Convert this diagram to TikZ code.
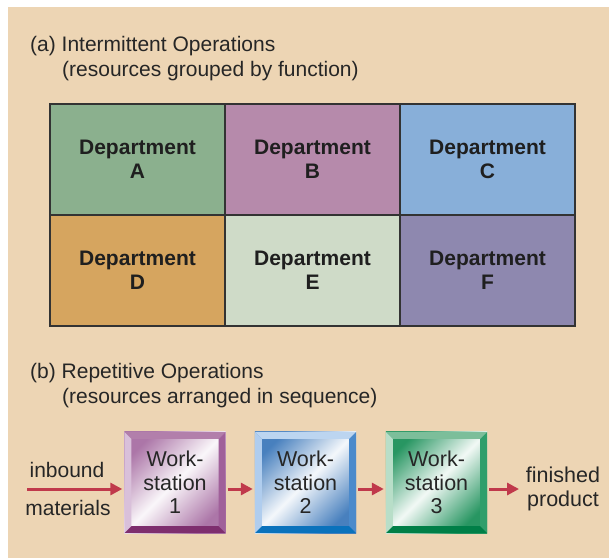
\documentclass[tikz,border=0pt]{standalone}
\usepackage{fontspec}
\setmainfont{Liberation Sans}
\usepackage{xcolor}
\usetikzlibrary{calc,arrows.meta}

\definecolor{bg}{RGB}{237,213,180}
\definecolor{deptA}{RGB}{139,176,142}
\definecolor{deptB}{RGB}{182,138,171}
\definecolor{deptC}{RGB}{136,175,217}
\definecolor{deptD}{RGB}{214,165,95}
\definecolor{deptE}{RGB}{207,219,200}
\definecolor{deptF}{RGB}{142,136,175}
\definecolor{flowred}{RGB}{192,57,75}
% Workstation 1
\definecolor{wsaface}{RGB}{172,118,168}
\definecolor{wsatop}{RGB}{178,127,171}
\definecolor{wsaleft}{RGB}{217,192,218}
\definecolor{wsaright}{RGB}{160,96,154}
\definecolor{wsabot}{RGB}{126,46,110}
% Workstation 2
\definecolor{wsbface}{RGB}{72,128,190}
\definecolor{wsbtop}{RGB}{188,213,240}
\definecolor{wsbleft}{RGB}{176,205,238}
\definecolor{wsbright}{RGB}{75,138,203}
\definecolor{wsbbot}{RGB}{10,114,188}
% Workstation 3
\definecolor{wscface}{RGB}{40,150,98}
\definecolor{wsctop}{RGB}{124,190,154}
\definecolor{wscleft}{RGB}{184,222,200}
\definecolor{wscright}{RGB}{47,158,107}
\definecolor{wscbot}{RGB}{0,127,71}

\begin{document}
\begin{tikzpicture}[x=1pt,y=-1pt,
    dept/.style={draw=black!80,line width=1.2pt,minimum width=175pt,minimum height=111pt,
      inner sep=0pt,align=center,font=\bfseries\fontsize{21}{24}\selectfont,text=black!88},
    label/.style={inner sep=0pt,font=\fontsize{21}{24}\selectfont,text=black!85},
    wstext/.style={inner sep=0pt,align=center,font=\fontsize{21.5}{23.5}\selectfont,text=black!85},
    flow/.style={draw=flowred,line width=3pt,-{Triangle[length=12pt,width=12pt]}}]

		% Hintergrund
		\useasboundingbox (0,0) rectangle (609,558);
		\fill[bg] (8,7) rectangle (609,558);

		% Titel
		\node[label,anchor=base west] (ta) at (30,51) {(a) Intermittent Operations};
		\node[label,anchor=base west] (tasub) at (62,76) {(resources grouped by function)};
		\node[label,anchor=base west] (tb) at (30,378) {(b) Repetitive Operations};
		\node[label,anchor=base west] (tbsub) at (62,403) {(resources arranged in sequence)};

		% Abteilungen
		\node[dept,fill=deptA] (depA) at (137.5,159.5) {Department\\A};
		\node[dept,fill=deptB] (depB) at (312.5,159.5) {Department\\B};
		\node[dept,fill=deptC] (depC) at (487.5,159.5) {Department\\C};
		\node[dept,fill=deptD] (depD) at (137.5,270.5) {Department\\D};
		\node[dept,fill=deptE] (depE) at (312.5,270.5) {Department\\E};
		\node[dept,fill=deptF] (depF) at (487.5,270.5) {Department\\F};

		% Arbeitsstationen
		\foreach \i/\x/\c in {1/175/wsa,2/305.5/wsb,3/436.5/wsc}{
			\node[minimum size=101pt,inner sep=0pt] (ws\i) at (\x,482.5) {};
			\shade[top color=\c face,bottom color=\c face,middle color=white!94!\c face,shading angle=45]
			  (ws\i.north west) rectangle (ws\i.south east);
			\fill[\c top] (ws\i.north west) -- (ws\i.north east) -- ($(ws\i.north east)+(-7,7)$) -- ($(ws\i.north west)+(7,7)$) -- cycle;
			\fill[\c left] (ws\i.north west) -- ($(ws\i.north west)+(7,7)$) -- ($(ws\i.south west)+(7,-7)$) -- (ws\i.south west) -- cycle;
			\fill[\c right] (ws\i.north east) -- (ws\i.south east) -- ($(ws\i.south east)+(-7,-7)$) -- ($(ws\i.north east)+(-7,7)$) -- cycle;
			\fill[\c bot] (ws\i.south west) -- ($(ws\i.south west)+(7,-7)$) -- ($(ws\i.south east)+(-7,-7)$) -- (ws\i.south east) -- cycle;
			\node[wstext] at (ws\i) {Work-\\station\\\i};
		}

		% Pfeile
		\coordinate (in) at (27,489);
		\coordinate (out) at (519,489);
		\draw[flow] (in) -- ([xshift=-2pt]in -| ws1.west);
		\draw[flow] ([xshift=2pt]ws1.east |- in) -- ([xshift=-2pt]ws2.west |- in);
		\draw[flow] ([xshift=2pt]ws2.east |- in) -- ([xshift=-2pt]ws3.west |- in);
		\draw[flow] ([xshift=2pt]ws3.east |- in) -- (out);

		% Beschriftung
		\node[label] (inb) at (67,470) {inbound};
		\node[label] (mat) at (68,508) {materials};
		\node[wstext] (fin) at (563,489) {finished\\product};
	\end{tikzpicture}
\end{document}
